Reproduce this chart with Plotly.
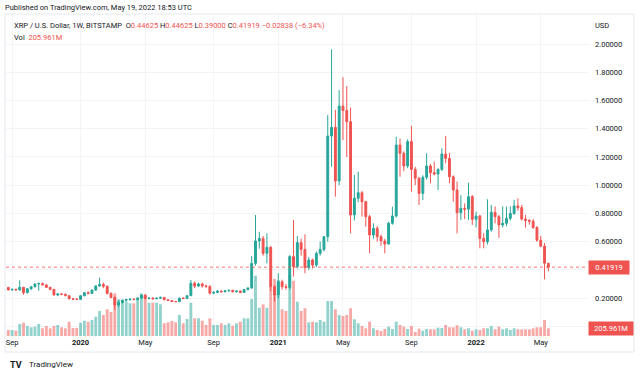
import plotly.graph_objects as go
import pandas as pd

# Weekly bars (Monday dates)
dates = pd.date_range('2019-08-26', periods=143, freq='7D')

opens = [0.275,0.258,0.262,0.258,0.276,0.238,0.266,0.280,0.300,0.303,
         0.293,0.276,0.262,0.222,0.229,0.227,0.217,0.196,0.193,0.191,
         0.217,0.238,0.232,0.257,0.286,0.297,0.283,0.233,0.205,0.151,
         0.170,0.185,0.190,0.192,0.190,0.201,0.220,0.198,0.200,0.195,
         0.199,0.205,0.188,0.183,0.176,0.175,0.200,0.197,0.217,0.305,
         0.285,0.300,0.286,0.283,0.235,0.240,0.250,0.245,0.252,0.255,
         0.245,0.250,0.240,0.260,0.272,0.446,0.605,0.623,0.517,0.560,
         0.281,0.222,0.316,0.281,0.275,0.494,0.423,0.593,0.545,0.416,
         0.470,0.434,0.517,0.545,0.635,1.349,1.410,1.030,1.561,1.530,
         1.450,0.789,0.907,0.947,0.883,0.777,0.647,0.694,0.635,0.605,
         0.583,0.730,0.782,1.285,1.226,1.136,1.309,1.112,1.049,0.942,
         1.056,1.136,1.089,1.079,1.112,1.221,1.190,1.060,0.966,0.805,
         0.836,0.830,0.919,0.758,0.782,0.623,0.600,0.683,0.808,0.777,
         0.718,0.730,0.765,0.800,0.853,0.841,0.760,0.750,0.745,0.700,
         0.610,0.568,0.44625]
highs = [0.280,0.266,0.265,0.326,0.280,0.272,0.285,0.305,0.310,0.310,
         0.300,0.280,0.265,0.235,0.235,0.232,0.219,0.200,0.198,0.220,
         0.241,0.248,0.260,0.290,0.345,0.310,0.290,0.240,0.210,0.185,
         0.190,0.195,0.200,0.200,0.205,0.225,0.230,0.205,0.205,0.205,
         0.210,0.207,0.193,0.186,0.180,0.203,0.205,0.220,0.328,0.318,
         0.310,0.310,0.295,0.290,0.250,0.255,0.255,0.256,0.260,0.258,
         0.254,0.252,0.262,0.275,0.498,0.789,0.670,0.640,0.659,0.570,
         0.290,0.376,0.330,0.300,0.505,0.753,0.640,0.620,0.652,0.490,
         0.480,0.530,0.600,0.640,1.497,1.963,1.533,1.675,1.765,1.703,
         1.550,1.072,1.096,0.960,0.890,0.790,0.730,0.710,0.650,0.620,
         0.740,0.848,1.344,1.330,1.240,1.325,1.420,1.130,1.060,1.070,
         1.226,1.150,1.167,1.120,1.261,1.349,1.230,1.070,1.025,0.930,
         0.871,1.018,0.930,0.812,0.790,0.660,0.900,0.860,0.850,0.790,
         0.850,0.848,0.850,0.895,0.907,0.860,0.790,0.760,0.760,0.710,
         0.640,0.590,0.44625]
lows = [0.255,0.252,0.255,0.252,0.224,0.234,0.258,0.276,0.253,0.290,
        0.272,0.255,0.218,0.213,0.220,0.213,0.190,0.185,0.186,0.189,
        0.212,0.228,0.229,0.250,0.280,0.270,0.225,0.198,0.116,0.135,
        0.160,0.175,0.180,0.185,0.183,0.193,0.190,0.190,0.190,0.193,
        0.195,0.185,0.180,0.172,0.171,0.172,0.194,0.193,0.215,0.270,
        0.280,0.275,0.270,0.225,0.228,0.235,0.240,0.240,0.246,0.240,
        0.240,0.235,0.236,0.255,0.265,0.430,0.550,0.500,0.446,0.250,
        0.175,0.200,0.260,0.260,0.260,0.352,0.410,0.500,0.376,0.400,
        0.410,0.420,0.500,0.530,0.600,1.131,0.919,1.000,1.320,1.200,
        0.659,0.750,0.880,0.777,0.706,0.517,0.620,0.600,0.570,0.517,
        0.580,0.720,0.770,1.060,1.100,1.120,0.954,1.000,0.860,0.895,
        1.040,1.013,1.070,0.966,1.100,1.155,1.013,0.883,0.659,0.753,
        0.760,0.753,0.718,0.701,0.553,0.553,0.580,0.670,0.730,0.627,
        0.700,0.710,0.750,0.790,0.820,0.750,0.700,0.720,0.690,0.600,
        0.560,0.333,0.390]
closes = [0.258,0.262,0.258,0.276,0.238,0.266,0.280,0.300,0.303,0.293,
          0.276,0.262,0.222,0.229,0.227,0.217,0.196,0.193,0.191,0.217,
          0.238,0.232,0.257,0.286,0.297,0.283,0.233,0.205,0.151,0.170,
          0.185,0.190,0.192,0.190,0.201,0.220,0.198,0.200,0.195,0.199,
          0.205,0.188,0.183,0.176,0.175,0.200,0.197,0.217,0.305,0.285,
          0.300,0.286,0.283,0.235,0.240,0.250,0.245,0.252,0.255,0.245,
          0.250,0.240,0.260,0.272,0.446,0.605,0.623,0.517,0.560,0.281,
          0.222,0.316,0.281,0.275,0.494,0.423,0.593,0.545,0.416,0.470,
          0.434,0.517,0.545,0.635,1.349,1.410,1.030,1.561,1.530,1.450,
          0.789,0.907,0.947,0.883,0.777,0.647,0.694,0.635,0.605,0.583,
          0.730,0.782,1.285,1.226,1.136,1.309,1.112,1.049,0.942,1.056,
          1.136,1.089,1.079,1.112,1.221,1.190,1.060,0.966,0.805,0.836,
          0.830,0.919,0.758,0.782,0.623,0.600,0.683,0.808,0.777,0.718,
          0.730,0.765,0.800,0.853,0.841,0.760,0.750,0.745,0.700,0.610,
          0.568,0.44757,0.41919]
# Weekly volume, millions
volumes = [160,160,142,321,356,268,233,249,321,206,
           268,206,268,294,233,206,383,214,214,356,
           409,383,428,516,669,562,714,642,1142,982,
           963,918,875,875,982,1142,1097,891,891,891,
           848,340,366,401,366,562,340,455,891,473,
           473,409,294,473,294,294,340,294,340,276,
           340,383,473,473,990,1613,757,848,757,1319,
           1525,1498,714,669,1632,1479,918,669,741,366,
           383,366,428,383,936,936,714,562,535,562,
           741,447,340,268,206,383,206,160,134,187,
           249,187,383,294,249,187,268,107,195,142,
           187,179,179,222,214,294,233,233,286,233,
           179,206,142,179,160,206,206,268,179,249,
           179,206,160,206,179,179,179,179,206,233,
           233,428,205.961]

tick_dates = ['2019-09-02', '2020-01-06', '2020-05-04', '2020-09-07', '2021-01-04',
              '2021-05-03', '2021-09-06', '2022-01-03', '2022-05-02']
tick_labels = ['Sep', '<b>2020</b>', 'May', 'Sep', '<b>2021</b>', 'May', 'Sep', '<b>2022</b>', 'May']
price_ticks = [0.0, 0.2, 0.4, 0.6, 0.8, 1.0, 1.2, 1.4, 1.6, 1.8, 2.0]
price_tick_labels = ['', '0.20000', '', '0.60000', '0.80000', '1.00000', '1.20000',
                     '1.40000', '1.60000', '1.80000', '2.00000']

last_close = closes[-1]
last_volume = volumes[-1]

UP = '#26a69a'
DOWN = '#ef5350'
vol_colors = ['rgba(38,166,154,0.5)' if c >= o else 'rgba(239,83,80,0.5)'
              for o, c in zip(opens, closes)]

fig = go.Figure()
fig.add_trace(go.Bar(x=dates, y=volumes, marker=dict(color=vol_colors, line=dict(width=0)),
                     yaxis='y', hoverinfo='skip'))
fig.add_trace(go.Candlestick(x=dates, open=opens, high=highs, low=lows, close=closes,
                             yaxis='y2',
                             increasing=dict(line=dict(color=UP, width=1), fillcolor=UP),
                             decreasing=dict(line=dict(color=DOWN, width=1), fillcolor=DOWN),
                             whiskerwidth=0, hoverinfo='skip'))

L, R, T, B = 6, 52, 14, 40
W, H = 640, 376
pw, ph = W - L - R, H - T - B
def px(x):
    return (x - L) / pw
def py(y):
    return (H - B - y) / ph

GRID = '#f3f4f7'
FONT = 'Roboto'
fig.update_layout(
    width=W, height=H,
    margin=dict(l=L, r=R, t=T, b=B),
    paper_bgcolor='white', plot_bgcolor='white',
    showlegend=False,
    hovermode=False,
    font=dict(family=FONT, size=7.5, color='#131722'),
    bargap=0.25, boxgap=0.3,
    xaxis=dict(type='date', range=['2019-08-21 18:00', '2022-07-28'],
               rangeslider=dict(visible=False),
               tickvals=tick_dates, ticktext=tick_labels,
               showgrid=True, gridcolor=GRID, gridwidth=1,
               zeroline=False, showline=False, ticks='',
               tickfont=dict(size=7.5, color='#131722')),
    yaxis=dict(range=[0, 8613], visible=False, showgrid=False, fixedrange=True),
    yaxis2=dict(overlaying='y', side='right', range=[-0.0687, 2.2133],
                tickvals=price_ticks, ticktext=price_tick_labels,
                showgrid=True, gridcolor=GRID, gridwidth=1,
                zeroline=False, showline=False, ticks='',
                ticklabelstandoff=6,
                tickfont=dict(size=7.5, color='#131722')),
    shapes=[
        dict(type='rect', xref='paper', yref='paper', x0=px(5), x1=px(634),
             y0=py(352), y1=py(14), line=dict(color='#e6e8ee', width=1),
             fillcolor='rgba(0,0,0,0)', layer='above'),
        dict(type='line', xref='paper', yref='y2', x0=0, x1=1,
             y0=last_close, y1=last_close,
             line=dict(color='rgba(239,83,80,0.8)', width=1, dash='dot')),
    ],
)

red = lambda s: f'<span style="color:{DOWN}">{s}</span>'
legend1 = ('XRP / U.S. Dollar, 1W, BITSTAMP&nbsp;&nbsp;O' + red('0.44625') + '&nbsp;H' + red('0.44625') +
           '&nbsp;L' + red('0.39000') + '&nbsp;C' + red('0.41919') + '&nbsp;' + red('\u22120.02838 (\u22126.34%)'))
legend2 = 'Vol&nbsp;&nbsp;' + red('205.961M')

ann = [
    dict(text='Published on TradingView.com, May 19, 2022 18:53 UTC', x=px(3), y=py(7.5),
         xanchor='left', yanchor='middle', font=dict(size=7.5, color='#131722')),
    dict(text=legend1, x=px(12), y=py(25.5), xanchor='left', yanchor='middle',
         font=dict(size=7.5, color='#131722')),
    dict(text=legend2, x=px(12), y=py(37.5), xanchor='left', yanchor='middle',
         font=dict(size=7.5, color='#131722')),
    dict(text='USD', x=px(593), y=py(25.5), xanchor='left', yanchor='middle',
         font=dict(size=7.5, color='#131722')),
    dict(text='<b>TV</b>', x=px(8), y=py(365), xanchor='left', yanchor='middle',
         font=dict(size=9, color='#131722')),
    dict(text='TradingView', x=px(27), y=py(365), xanchor='left', yanchor='middle',
         font=dict(size=8, color='#131722')),
]
for a in ann:
    a.update(xref='paper', yref='paper', showarrow=False)
ann.append(dict(text=f'{last_close:.5f}', xref='paper', yref='y2', x=1.0, y=last_close,
                xanchor='left', yanchor='middle', showarrow=False, bgcolor=DOWN,
                font=dict(size=7.5, color='white'), width=36, borderpad=2, align='center'))
ann.append(dict(text=f'{last_volume:.3f}M', xref='paper', yref='y', x=1.0, y=last_volume,
                xanchor='left', yanchor='middle', showarrow=False, bgcolor=DOWN,
                font=dict(size=7.5, color='white'), width=40, borderpad=2, align='center'))
fig.update_layout(annotations=ann)

fig.write_html('out.html', config={'displayModeBar': False, 'staticPlot': True},
               post_script="document.body.style.margin='0';document.body.style.overflow='hidden';")
